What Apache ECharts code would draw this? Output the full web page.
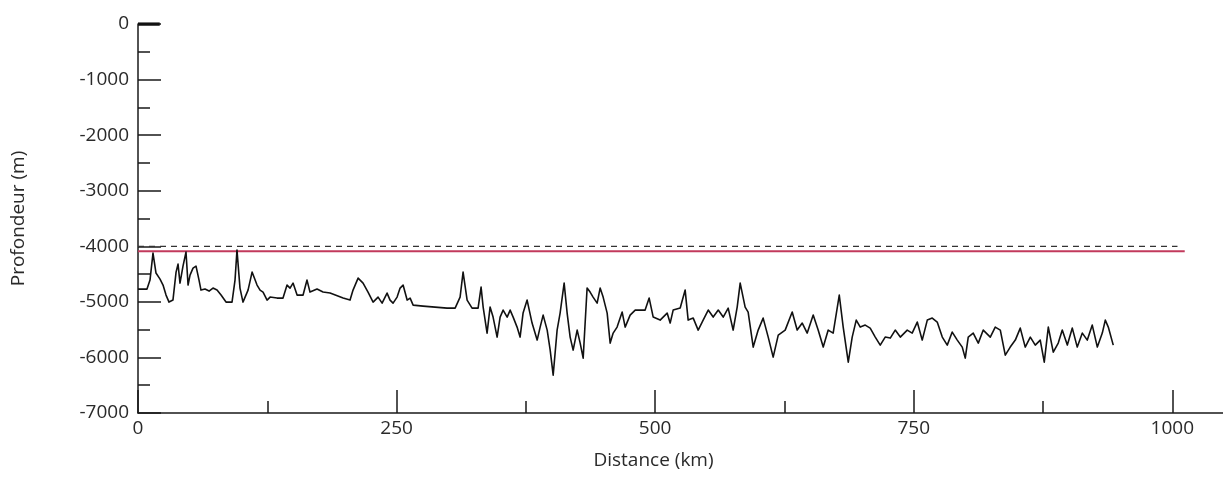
<!DOCTYPE html>
<html>
<head>
<meta charset="utf-8">
<script src="https://cdn.jsdelivr.net/npm/echarts@6/dist/echarts.min.js"></script>
<style>html,body{margin:0;padding:0;background:#fff;}#c{width:1223px;height:486px;}</style>
</head>
<body>
<div id="c"></div>
<script>
// Bathymetric profile: distance along track (km) and depth (m)
const distanceKm = [0,8.7,11.6,14.5,17.4,21.3,24.2,27.1,30.0,33.8,36.8,38.7,40.6,43.5,46.4,48.4,50.3,53.2,56.1,59.0,60.9,64.8,68.7,72.5,76.4,80.3,85.1,90.9,93.8,95.7,98.6,101.5,106.4,110.3,115.1,118.0,120.9,124.8,127.7,134.4,140.2,144.1,147.0,149.9,153.8,159.6,163.4,166.3,173.1,178.9,185.7,198.3,205.0,207.9,212.8,217.6,222.4,227.3,232.1,236.0,240.8,243.7,246.6,250.5,253.4,256.3,260.2,263.1,266.0,275.6,298.8,306.6,311.4,314.3,318.2,323.0,328.8,331.7,333.7,337.5,340.4,343.3,347.2,350.1,353.0,356.9,359.8,362.7,366.5,369.4,372.3,376.2,381.0,385.9,388.8,391.7,395.6,398.5,401.4,405.2,408.1,412.0,414.9,417.8,420.7,424.6,427.5,430.4,434.2,437.1,440.0,443.9,446.8,449.7,453.6,456.5,459.4,463.2,468.1,471.0,475.8,480.7,485.5,490.3,494.2,498.1,504.8,511.6,514.5,517.4,524.2,529.0,531.9,536.8,541.6,546.4,551.3,556.1,561.0,565.8,570.6,575.4,579.3,582.2,587.0,589.9,594.8,599.6,604.4,609.3,614.1,619.0,625.7,632.5,637.3,642.2,647.0,652.8,657.6,662.5,667.3,672.1,678.0,681.8,686.7,690.5,694.4,698.3,703.1,707.9,712.8,717.6,722.4,727.3,732.1,737.0,743.7,748.5,753.4,758.2,763.1,767.9,772.7,777.6,782.4,787.2,792.1,796.9,799.8,802.7,807.5,812.4,817.2,824.0,828.8,833.7,838.5,843.3,848.2,853.0,857.8,862.7,867.5,872.3,876.2,880.1,884.9,889.7,893.6,898.5,903.3,908.1,913.0,917.8,922.6,927.5,932.3,935.2,938.1,942.9];
const depthM = [-4770,-4770,-4608,-4122,-4482,-4590,-4698,-4878,-5004,-4968,-4464,-4320,-4662,-4356,-4104,-4698,-4518,-4392,-4356,-4608,-4788,-4770,-4806,-4752,-4788,-4878,-5004,-5004,-4608,-4068,-4752,-5004,-4788,-4464,-4698,-4788,-4824,-4968,-4914,-4932,-4932,-4698,-4752,-4662,-4878,-4878,-4608,-4824,-4770,-4824,-4842,-4932,-4968,-4788,-4572,-4662,-4824,-5004,-4914,-5022,-4842,-4968,-5022,-4914,-4752,-4698,-4968,-4932,-5058,-5076,-5112,-5112,-4914,-4464,-4968,-5112,-5112,-4734,-5094,-5562,-5094,-5274,-5634,-5274,-5148,-5274,-5148,-5274,-5454,-5634,-5202,-4968,-5382,-5688,-5454,-5238,-5508,-5868,-6318,-5508,-5202,-4662,-5202,-5634,-5868,-5508,-5742,-6012,-4752,-4824,-4914,-5022,-4752,-4914,-5202,-5742,-5562,-5454,-5184,-5454,-5238,-5148,-5148,-5148,-4932,-5274,-5328,-5202,-5382,-5148,-5112,-4788,-5328,-5292,-5508,-5328,-5148,-5274,-5148,-5274,-5112,-5508,-5094,-4662,-5094,-5184,-5814,-5508,-5292,-5634,-5994,-5598,-5508,-5184,-5508,-5382,-5562,-5238,-5508,-5814,-5508,-5562,-4878,-5454,-6084,-5634,-5328,-5454,-5418,-5472,-5634,-5778,-5634,-5652,-5508,-5634,-5508,-5562,-5364,-5688,-5328,-5292,-5364,-5634,-5778,-5544,-5688,-5814,-6012,-5634,-5562,-5742,-5508,-5634,-5454,-5508,-5958,-5814,-5688,-5472,-5814,-5634,-5778,-5688,-6084,-5454,-5904,-5742,-5508,-5778,-5472,-5814,-5562,-5688,-5418,-5814,-5562,-5328,-5454,-5778];
// Reference levels: dashed line and red line (start km, end km, depth m)
const dashedRefKm = [0, 1005];
const dashedRefDepth = -4000;
const redRefKm = [0, 1012];
const redRefDepth = -4090;
// Axis ticks
const xMajorTicks = [0, 250, 500, 750, 1000];
const xMinorTicks = [125, 375, 625, 875];
const yTickLabels = [0, -1000, -2000, -3000, -4000, -5000, -6000, -7000];

const profile = distanceKm.map((d, i) => [d, depthM[i]]);
const font = '"Open Sans", "DejaVu Sans", sans-serif';
const axisCol = '#1a1a1a';
const textCol = '#2a2a2a';
const fs = 19;
const X_MAX = 1049;

const chart = echarts.init(document.getElementById('c'), null, {renderer: 'canvas'});
chart.setOption({
  animation: false,
  backgroundColor: '#ffffff',
  grid: {left: 138, right: 0, top: 24, bottom: 73, containLabel: false},
  xAxis: [{
    type: 'value', min: 0, max: X_MAX,
    name: 'Distance (km)', nameLocation: 'middle', nameGap: 38,
    nameTextStyle: {fontFamily: font, fontSize: fs, color: textCol, padding: [0, 54, 0, 0]},
    axisLine: {show: true, onZero: false, lineStyle: {color: axisCol, width: 1.5}},
    axisTick: {show: true, inside: true, length: 23, customValues: xMajorTicks, lineStyle: {color: axisCol, width: 1.5}},
    axisLabel: {fontFamily: font, fontSize: fs, color: textCol, margin: 6, customValues: xMajorTicks,
      formatter: v => String(v)},
    splitLine: {show: false}
  }, {
    type: 'value', min: 0, max: X_MAX, position: 'bottom', gridIndex: 0,
    axisLine: {show: false, onZero: false},
    axisTick: {show: true, inside: true, length: 12, customValues: xMinorTicks, lineStyle: {color: axisCol, width: 1.5}},
    axisLabel: {show: false},
    splitLine: {show: false}
  }],
  yAxis: {
    type: 'value', min: -7000, max: 0, interval: 1000,
    name: 'Profondeur (m)', nameLocation: 'middle', nameGap: 110, nameRotate: 90,
    nameTextStyle: {fontFamily: font, fontSize: fs, color: textCol},
    axisLine: {show: true, onZero: false, lineStyle: {color: axisCol, width: 1.5}},
    axisTick: {show: true, inside: true, length: 23, lineStyle: {color: axisCol, width: 1.5}},
    minorTick: {show: true, splitNumber: 2, length: 12, lineStyle: {color: axisCol, width: 1.5}},
    axisLabel: {fontFamily: font, fontSize: fs, color: textCol, margin: 9,
      formatter: v => yTickLabels.indexOf(v) >= 0 ? String(v) : ''},
    splitLine: {show: false}
  },
  series: [
    {
      type: 'line', name: 'ref-dashed', silent: true, symbol: 'none',
      data: dashedRefKm.map(k => [k, dashedRefDepth]),
      lineStyle: {color: '#333333', width: 1.3, type: [6, 5]}, z: 2
    },
    {
      type: 'line', name: 'ref-red', silent: true, symbol: 'none',
      data: redRefKm.map(k => [k, redRefDepth]),
      lineStyle: {color: '#c23a5c', width: 2}, z: 2
    },
    {
      type: 'line', name: 'zero-tick', silent: true, symbol: 'none',
      data: [[0, 0], [21, 0]],
      lineStyle: {color: '#111111', width: 3.5}, z: 4
    },
    {
      type: 'line', name: 'profil', symbol: 'none', silent: true,
      data: profile,
      lineStyle: {color: '#111111', width: 1.6, join: 'round'}, z: 3
    }
  ]
});
</script>
</body>
</html>
